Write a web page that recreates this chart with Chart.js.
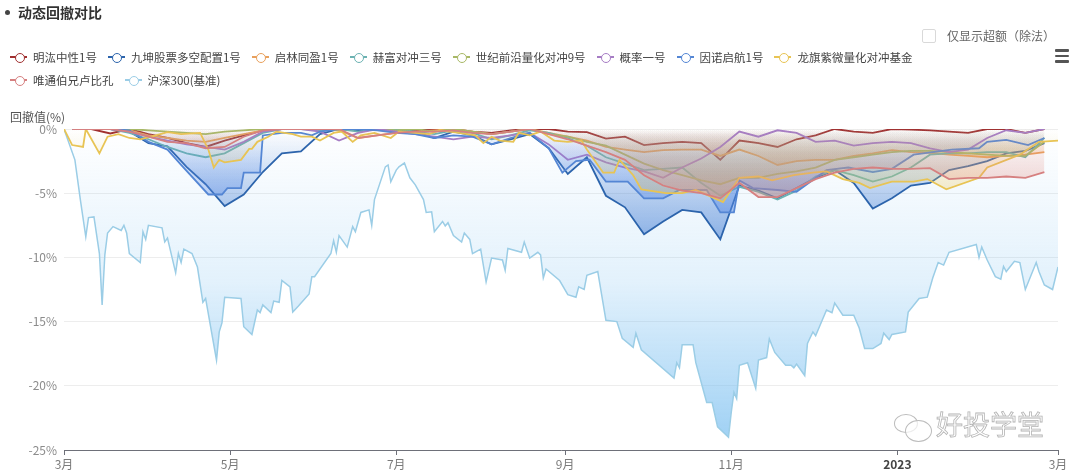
<!DOCTYPE html>
<html lang="zh">
<head>
    <meta charset="utf-8">
    <title>动态回撤对比</title>
    <script src="https://cdn.jsdelivr.net/npm/chart.js"></script>
    <style>
        * { box-sizing: border-box; }
        body {
            margin: 0;
            width: 1080px;
            height: 475px;
            overflow: hidden;
            background: #fff;
            position: relative;
            font-family: "Noto Sans CJK SC", "Noto Sans", sans-serif;
        }
        #chart { position: absolute; left: 0; top: 0; }

        /* title */
        .dot { position: absolute; left: 5px; top: 10px; width: 5px; height: 5px; border-radius: 50%; background: #444; }
        .title { position: absolute; left: 18px; top: 1px; font-size: 14px; font-weight: bold; color: #333; line-height: 22px; }

        /* checkbox + menu */
        .check { position: absolute; left: 922px; top: 29px; width: 14px; height: 14px; border: 1px solid #d9d9d9; border-radius: 2px; background: #fff; }
        .check-label { position: absolute; left: 947px; top: 27px; font-size: 12px; line-height: 18px; color: #666; }
        .menu { position: absolute; left: 1055px; top: 49px; width: 14px; }
        .menu span { display: block; height: 2.5px; background: #555; margin-bottom: 3px; border-radius: 1px; }

        /* legend */
        .legend { position: absolute; left: 10px; top: 45px; font-size: 11.5px; color: #444; }
        .legend .row { display: flex; height: 23px; align-items: center; }
        .legend .item { display: flex; align-items: center; margin-right: 11px; white-space: nowrap; }
        .legend .icon { position: relative; width: 17px; height: 9px; margin-right: 6px; }
        .legend .icon::before { content: ''; position: absolute; left: 0; right: 0; top: 3.5px; height: 2px; background: var(--c); }
        .legend .icon::after { content: ''; position: absolute; left: 4.5px; top: 0.5px; width: 8px; height: 8px; border: 1.8px solid var(--c); border-radius: 50%; background: #fff; }

        .ytitle { position: absolute; left: 10px; top: 108px; font-size: 12px; color: #555; line-height: 18px; }

        /* watermark */
        .mark { position: absolute; left: 936px; top: 404px; font-size: 27px; color: rgba(255,255,255,0.5); -webkit-text-stroke: 0.8px #b4b4b4; line-height: 40px; }
        .bubble { position: absolute; border: 1.3px solid #bcbcbc; border-radius: 50%; background: rgba(255,255,255,0.7); }
    </style>
</head>
<body>
    <canvas id="chart" width="1080" height="475"></canvas>

    <div class="dot"></div>
    <div class="title">动态回撤对比</div>
    <div class="check"></div>
    <div class="check-label">仅显示超额（除法）</div>
    <div class="menu"><span></span><span></span><span></span></div>
    <div class="legend" id="legend"></div>
    <div class="ytitle">回撤值(%)</div>

    <div class="bubble" style="left:894px; top:414px; width:24px; height:19px;"></div>
    <div class="bubble" style="left:905px; top:420px; width:27px; height:22px;"></div>
    <div class="mark">好投学堂</div>

    <script>
        // x values are days since 2022-03-01
        const monthTicks = [0, 61, 122, 184, 245, 306, 365];
        const monthLabels = ['3月', '5月', '7月', '9月', '11月', '2023', '3月'];

        const names = ['明汯中性1号', '九坤股票多空配置1号', '启林同盈1号', '赫富对冲三号', '世纪前沿量化对冲9号',
                       '概率一号', '因诺启航1号', '龙旗紫微量化对冲基金', '唯通伯兄卢比孔', '沪深300(基准)'];
        const colors = ['160,48,48', '44,100,172', '232,160,92', '108,178,178', '168,184,102',
                        '166,124,196', '84,134,212', '232,196,84', '214,128,128', '155,205,230'];
        const fillColors = ['220,110,90', '60,120,210', '238,160,90', '108,178,178', '168,184,102',
                            '166,124,196', '90,140,230', '236,196,84', '225,135,125', '120,190,240'];
        const fillAlpha = [0.22, 0.55, 0.35, 0.22, 0.22, 0.15, 0.5, 0.35, 0.4, 0.7];

        // weekly funds
        const fundDay = [3, 10, 17, 24, 31, 38, 45, 52, 59, 66, 73, 80, 87, 94, 101, 108, 115, 122, 129, 136,
                         143, 150, 157, 164, 171, 178, 185, 192, 199, 206, 213, 220, 227, 234, 241, 248, 255, 262, 269, 276,
                         283, 290, 297, 304, 311, 318, 325, 332, 339, 346, 353, 360];

        const mingHong = [0, 0, -0.35, 0, -0.4, -0.7, -1.1, -1.4, -0.9, -0.5, -0.1,
                          0, 0, 0, 0, -0.1, 0, 0, -0.1, 0, 0,
                          -0.2, -0.3, -0.1, 0, 0, -0.2, -0.25, -0.75, -0.6, -1.25,
                          -1.1, -1.0, -1.1, -2.4, -0.9, -1.1, -1.4, -0.8, -0.5, 0,
                          -0.2, -0.3, 0, -0.05, -0.1, -0.2, -0.3, 0, 0, -0.3, 0];

        const jiuKun = [0, 0, 0, -0.2, -1.1, -1.35, -2.95, -4.3, -6.0, -5.1, -3.35,
                        -1.9, -1.75, -0.4, 0, -0.1, 0, -0.2, -0.2, -0.7, -0.2,
                        -0.5, -1.2, -0.8, -0.4, -1.5, -3.5, -2.2, -5.2, -6.1, -8.2,
                        -7.2, -6.3, -6.5, -8.6, -4.4, -4.8, -5.4, -4.6, -3.8, -3.2,
                        -4.2, -6.2, -5.4, -4.4, -4.2, -3.2, -2.9, -2.5, -1.9, -1.7, -1.1];

        const qiLin = [0, 0, 0, -0.1, -0.5, -0.7, -0.9, -1.0, -0.7, -0.4, -0.1,
                       0, 0, 0, -0.1, -0.7, -0.5, -0.3, -0.2, -0.1, 0,
                       -0.2, -0.4, -0.2, 0, -0.3, -0.6, -0.9, -1.4, -1.6, -1.8,
                       -1.65, -1.6, -1.6, -2.1, -1.6, -2.1, -2.8, -2.5, -2.4, -2.4,
                       -2.1, -1.9, -1.65, -1.8, -1.85, -2.0, -2.1, -2.2, -2.1, -2.0, -1.8];

        const heFu = [0, 0, 0, -0.3, -0.8, -1.4, -1.9, -2.2, -1.9, -1.1, -0.3,
                      0, 0, -0.1, 0, -0.2, 0, 0, -0.2, -0.4, -0.1,
                      -0.3, -0.8, -0.5, -0.1, -0.3, -0.7, -1.3, -2.2, -2.7, -3.2,
                      -3.1, -3.0, -4.2, -5.2, -4.5, -4.9, -5.5, -4.8, -3.7, -3.2,
                      -3.6, -4.1, -3.7, -3.0, -2.0, -1.9, -1.9, -1.8, -1.8, -2.2, -0.7];

        const shiJi = [0, 0, 0, 0, -0.1, -0.2, -0.3, -0.4, -0.2, -0.1, 0,
                       0, 0, 0, 0, 0, 0, -0.1, 0, -0.2, 0,
                       -0.2, -0.4, -0.2, 0, -0.4, -0.6, -1.0, -1.3, -2.0, -2.7,
                       -3.2, -3.6, -4.0, -4.3, -3.8, -3.8, -3.5, -3.3, -3.0, -2.4,
                       -2.2, -2.0, -1.8, -1.7, -1.7, -1.8, -1.9, -2.0, -2.1, -2.1, -1.0];

        const gaiLv = [0, 0, 0, -0.2, -0.6, -0.9, -1.2, -1.4, -1.6, -1.0, -0.2,
                       0, 0, -0.2, -0.9, -0.3, 0, -0.2, -0.4, -0.6, -0.8,
                       -0.6, -0.7, -0.5, -0.3, -1.2, -2.4, -2.0, -2.6, -3.0, -3.3,
                       -3.8, -3.0, -2.3, -1.4, -0.2, -0.6, -0.1, -0.3, -1.0, -0.9,
                       -1.3, -1.1, -1.0, -1.1, -1.5, -1.8, -1.6, -0.7, -0.1, -0.3, 0];

        const weiTong = [0, 0, 0, -0.2, -0.6, -1.0, -1.1, -1.5, -1.4, -0.6, -0.1,
                         0, 0, 0, 0, -0.7, -0.5, -0.3, -0.2, -0.2, -0.1,
                         -0.3, -0.4, -0.2, 0, -0.4, -0.8, -1.3, -1.8, -2.4, -3.6,
                         -4.4, -4.8, -5.0, -5.4, -4.2, -5.3, -5.3, -4.6, -3.9, -3.4,
                         -3.1, -3.0, -3.1, -3.1, -3.05, -3.9, -3.8, -3.8, -3.7, -3.8, -3.35];

        // 因诺启航1号 (own dates)
        const innoDay = [3, 10, 17, 24, 31, 38, 43, 53, 58, 60, 65, 66, 72, 73, 80, 87, 91, 94, 101, 108,
                         115, 122, 129, 136, 143, 150, 157, 164, 171, 178, 183, 188, 193, 199, 207, 213, 220, 226, 236, 241,
                         246, 248, 253, 262, 269, 280, 288, 297, 304, 312, 319, 326, 336, 339, 346, 354, 360];
        const yinNuo = [0, 0, 0, -0.1, -1.0, -1.6, -2.8, -5.1, -5.1, -4.6, -4.6, -3.4, -3.4, -0.5, -0.3, -0.3, -0.5, -0.2, 0, 0,
                        -0.1, -0.3, -0.4, -0.7, -0.5, -0.6, -1.2, -0.7, -0.3, -1.5, -3.4, -2.5, -2.4, -4.1, -4.1, -5.4, -5.4, -4.75, -4.75, -6.5,
                        -6.5, -4.0, -4.6, -4.75, -4.9, -3.2, -3.0, -3.35, -3.1, -2.0, -1.8, -1.6, -1.5, -1.0, -0.85, -1.25, -0.7];

        // 龙旗紫微量化对冲基金 (own dates)
        const longqiDay = [0, 3, 7, 8, 13, 16, 20, 24, 28, 32, 38, 43, 50, 53, 55, 57, 59, 65, 68, 69,
                           71, 75, 78, 84, 87, 91, 94, 99, 102, 106, 109, 114, 120, 123, 129, 134, 138, 145, 151, 154,
                           157, 160, 165, 167, 171, 175, 180, 185, 190, 192, 198, 202, 204, 209, 212, 221, 227, 232, 242, 248,
                           255, 260, 268, 275, 280, 286, 292, 296, 304, 312, 317, 324, 336, 339, 351, 358, 365];
        const longQi = [0, -1.25, -1.4, 0, -1.9, -0.6, -0.4, -0.7, -0.8, -0.6, -0.25, -0.4, -0.3, -1.6, -3.0, -2.4, -2.6, -2.4, -1.55, -1.55,
                        -1.0, -0.6, -0.2, -0.4, -0.6, -0.6, -0.9, -0.3, -0.2, -1.0, -0.5, -0.3, -0.7, -0.2, -0.3, -0.4, -0.1, -0.3, -0.5, -1.1,
                        -0.6, -0.9, -1.0, -0.3, -0.5, -0.2, -0.9, -1.0, -0.9, -1.6, -3.4, -3.4, -2.4, -3.6, -4.7, -5.0, -5.0, -4.75, -5.7, -3.8,
                        -3.7, -4.0, -3.6, -3.4, -3.3, -3.9, -4.2, -4.6, -4.1, -4.1, -3.9, -4.7, -3.8, -3.0, -2.0, -1.0, -0.9];

        // 沪深300(基准)
        const hsDay = [0, 4, 6, 8, 9, 11, 13, 14, 15, 16, 18, 21, 22, 23, 24, 28, 29, 30, 31, 36,
                       37, 38, 41, 42, 43, 44, 47, 49, 51, 52, 56, 57, 58, 59, 65, 66, 69, 71, 72, 73,
                       76, 77, 79, 80, 83, 84, 86, 90, 91, 92, 98, 99, 100, 101, 104, 106, 107, 109, 112, 113,
                       114, 118, 119, 120, 122, 123, 125, 127, 129, 132, 133, 135, 136, 139, 140, 141, 143, 146, 147, 149,
                       150, 153, 155, 157, 161, 162, 163, 168, 169, 171, 174, 175, 176, 177, 182, 185, 188, 189, 191, 192,
                       196, 199, 203, 205, 209, 210, 212, 224, 225, 226, 227, 231, 232, 236, 238, 240, 244, 245, 246, 247,
                       248, 251, 254, 255, 258, 259, 261, 265, 267, 268, 269, 272, 273, 275, 276, 280, 282, 283, 286, 290,
                       292, 294, 297, 300, 301, 303, 304, 309, 310, 314, 317, 319, 321, 323, 325, 335, 336, 337, 339, 342,
                       344, 345, 346, 349, 351, 353, 357, 358, 360, 363, 365];
        const hs300 = [0, -2.4, -5.5, -8.4, -6.9, -6.85, -9.7, -13.7, -9.8, -8.1, -7.6, -7.9, -7.5, -8.1, -9.7, -10.4, -8.0, -8.6, -7.5, -7.7,
                       -8.8, -8.5, -11.2, -9.7, -10.4, -9.35, -9.7, -10.75, -13.5, -13.2, -18.0, -15.8, -15.1, -13.1, -13.2, -15.4, -16.0, -14.1, -14.3, -13.7,
                       -14.3, -13.4, -13.5, -11.8, -12.3, -14.25, -13.8, -12.85, -11.5, -11.5, -9.7, -8.7, -9.6, -8.3, -9.2, -7.6, -8.0, -6.5, -6.3, -7.5,
                       -5.5, -2.95, -2.8, -4.1, -3.2, -2.95, -2.65, -3.8, -4.35, -5.5, -6.5, -6.45, -8.0, -7.2, -7.55, -7.3, -8.3, -8.8, -8.1, -8.6,
                       -9.7, -9.35, -11.9, -10.05, -10.2, -11.0, -9.3, -9.6, -8.8, -10.05, -9.6, -9.8, -11.6, -10.9, -11.8, -12.9, -13.1, -12.3, -12.5, -11.4,
                       -11.1, -14.9, -15.0, -16.3, -17.0, -15.9, -17.2, -19.4, -18.2, -18.6, -16.8, -16.8, -18.2, -21.3, -21.3, -23.2, -24.0, -22.1, -20.5, -21.0,
                       -18.4, -18.2, -20.2, -18.0, -17.8, -16.35, -17.4, -18.4, -18.4, -18.6, -18.3, -19.2, -16.7, -15.8, -16.1, -14.1, -14.3, -13.55, -14.5, -14.5,
                       -15.5, -17.1, -17.1, -16.7, -15.9, -16.4, -16.0, -15.8, -14.25, -13.2, -13.1, -11.6, -10.4, -10.6, -9.6, -9.0, -10.0, -9.2, -10.2, -11.5,
                       -11.7, -10.7, -11.1, -10.3, -10.4, -12.5, -10.4, -11.1, -12.15, -12.5, -10.75];

        const series = [
            [fundDay, mingHong], [fundDay, jiuKun], [fundDay, qiLin], [fundDay, heFu], [fundDay, shiJi],
            [fundDay, gaiLv], [innoDay, yinNuo], [longqiDay, longQi], [fundDay, weiTong], [hsDay, hs300]
        ];

        // legend (two rows like the original)
        const legend = document.getElementById('legend');
        [names.slice(0, 8), names.slice(8)].forEach((rowNames, r) => {
            const row = document.createElement('div');
            row.className = 'row';
            rowNames.forEach((n, j) => {
                const i = r * 8 + j;
                const item = document.createElement('div');
                item.className = 'item';
                item.innerHTML = '<span class="icon" style="--c: rgb(' + colors[i] + ')"></span>' + n;
                row.appendChild(item);
            });
            legend.appendChild(row);
        });

        // vertical gradient from 0% down to the series' own low point
        function fade(rgb, alpha, mid) {
            return function (ctx) {
                const chart = ctx.chart;
                if (!chart.chartArea || !chart.scales.y) return 'rgba(' + rgb + ',0.1)';
                const vals = chart.data.datasets[ctx.datasetIndex].data.map(p => p.y);
                const y0 = chart.scales.y.getPixelForValue(0);
                const y1 = chart.scales.y.getPixelForValue(Math.min(...vals));
                const g = chart.ctx.createLinearGradient(0, y0, 0, Math.max(y1, y0 + 1));
                g.addColorStop(0, 'rgba(' + rgb + ',0)');
                g.addColorStop(0.5, 'rgba(' + rgb + ',' + (alpha * mid) + ')');
                g.addColorStop(1, 'rgba(' + rgb + ',' + alpha + ')');
                return g;
            };
        }

        Chart.defaults.font.family = '"Noto Sans CJK SC", "Noto Sans", sans-serif';

        const datasets = series.map(([days, vals], i) => ({
            label: names[i],
            data: days.map((d, j) => ({ x: d, y: vals[j] })),
            borderColor: 'rgb(' + colors[i] + ')',
            backgroundColor: fade(fillColors[i], fillAlpha[i], i === 9 ? 0.3 : 0.5),
            borderWidth: i === 9 ? 1.5 : 1.8,
            fill: 'origin',
            pointRadius: 0,
            tension: 0,
            order: i === 9 ? 100 : 20 - i
        }));

        new Chart(document.getElementById('chart'), {
            type: 'line',
            data: { datasets: datasets },
            options: {
                responsive: false,
                animation: false,
                devicePixelRatio: 1,
                layout: { padding: { top: 129, right: 22, left: 0, bottom: 0 } },
                plugins: {
                    legend: { display: false },
                    tooltip: { enabled: false }
                },
                scales: {
                    x: {
                        type: 'linear',
                        min: 0,
                        max: 365,
                        afterBuildTicks: (axis) => { axis.ticks = monthTicks.map(v => ({ value: v })); },
                        afterFit: (axis) => { axis.height = 25; },
                        ticks: {
                            autoSkip: false,
                            maxRotation: 0,
                            padding: 2,
                            callback: (v, i) => monthLabels[i],
                            color: (c) => c.index === 5 ? '#444' : '#7a7a7a',
                            font: (c) => ({ size: 12, weight: c.index === 5 ? 'bold' : 'normal' })
                        },
                        grid: { drawOnChartArea: false, drawTicks: true, tickLength: 5, color: '#6e7079' },
                        border: { display: true, color: '#6e7079' }
                    },
                    y: {
                        min: -25,
                        max: 0,
                        afterFit: (axis) => { axis.width = 64; },
                        ticks: {
                            stepSize: 5,
                            padding: 7,
                            color: '#8c8c8c',
                            font: { size: 12 },
                            callback: (v) => v + '%'
                        },
                        grid: { color: '#ededed', drawTicks: false },
                        border: { display: false }
                    }
                }
            }
        });
    </script>
</body>
</html>
